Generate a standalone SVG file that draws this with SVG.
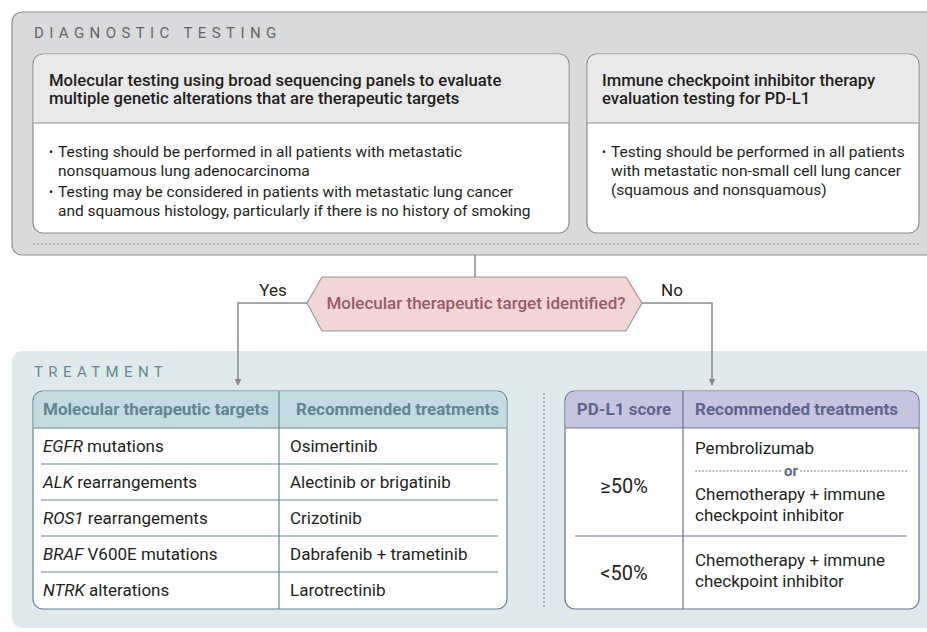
<svg xmlns="http://www.w3.org/2000/svg" width="927" height="632" viewBox="0 0 927 632">
<defs>
<style>
text{font-family:Roboto,"Liberation Sans",sans-serif;fill:#231f20}
.sec{font-size:15px;letter-spacing:5.4px}
.hd{font-size:16.7px;font-weight:500}
.bd{font-size:15.5px}
.bl{font-size:12px}
.tb{font-size:17px}
.th{font-size:17px;font-weight:700}
.conn{fill:none;stroke:#8a8a8a;stroke-width:1.5}
</style>
<marker id="arr" viewBox="0 0 10 10" refX="9" refY="5" markerWidth="7" markerHeight="7" markerUnits="userSpaceOnUse" orient="auto">
<path d="M0,0 L10,5 L0,10 z" fill="#8a8a8a"/>
</marker>
</defs>
<rect width="927" height="632" fill="#ffffff"/>

<g id="diagnostic-panel">
<rect x="12" y="12" width="940" height="243" rx="10" fill="#d9dadb" stroke="#8e8e8e" stroke-width="1.2"/>
<text class="sec" x="34" y="38" style="fill:#666666">DIAGNOSTIC TESTING</text>
<line x1="33" y1="244" x2="919" y2="244" stroke="#9a9a9a" stroke-width="1.2" stroke-dasharray="2,2"/>
</g>

<g id="molecular-testing">
<rect x="33" y="54" width="536" height="179" rx="10" fill="#ffffff" stroke="#8e8e8e" stroke-width="1.2"/>
<path d="M33.6,123 V64 A9.4,9.4 0 0 1 43,54.6 H559 A9.4,9.4 0 0 1 568.4,64 V123 Z" fill="#e9e9ea"/>
<line x1="33" y1="123" x2="569" y2="123" stroke="#8e8e8e" stroke-width="1.2"/>
<text class="hd" x="49" y="86">Molecular testing using broad sequencing panels to evaluate</text>
<text class="hd" x="49" y="104">multiple genetic alterations that are therapeutic targets</text>
<text class="bl" x="49" y="156">•</text>
<text class="bd" x="58" y="157">Testing should be performed in all patients with metastatic</text>
<text class="bd" x="58" y="176">nonsquamous lung adenocarcinoma</text>
<text class="bl" x="49" y="196">•</text>
<text class="bd" x="58" y="197">Testing may be considered in patients with metastatic lung cancer</text>
<text class="bd" x="58" y="216">and squamous histology, particularly if there is no history of smoking</text>
</g>

<g id="pdl1-testing">
<rect x="587" y="54" width="332" height="179" rx="10" fill="#ffffff" stroke="#8e8e8e" stroke-width="1.2"/>
<path d="M587.6,123 V64 A9.4,9.4 0 0 1 597,54.6 H909 A9.4,9.4 0 0 1 918.4,64 V123 Z" fill="#e9e9ea"/>
<line x1="587" y1="123" x2="919" y2="123" stroke="#8e8e8e" stroke-width="1.2"/>
<text class="hd" x="602" y="86">Immune checkpoint inhibitor therapy</text>
<text class="hd" x="602" y="104">evaluation testing for PD-L1</text>
<text class="bl" x="602" y="156">•</text>
<text class="bd" x="611" y="157">Testing should be performed in all patients</text>
<text class="bd" x="611" y="176">with metastatic non-small cell lung cancer</text>
<text class="bd" x="611" y="195">(squamous and nonsquamous)</text>
</g>

<g id="treatment-panel">
<rect x="12" y="351" width="940" height="277" rx="10" fill="#dfeaec"/>
<text class="sec" x="34" y="377" style="fill:#5f8a93">TREATMENT</text>
<line x1="544" y1="393" x2="544" y2="607" stroke="#8ea6ac" stroke-width="1.5" stroke-dasharray="2,2"/>
</g>

<g id="decision">
<polygon points="307,303 322,277 626,277 642,303 626,331 322,331" fill="#f2d5d5" stroke="#9a9a9a" stroke-width="1.2"/>
<text x="476" y="309" text-anchor="middle" style="font-size:17px;font-weight:500;fill:#9b5a67">Molecular therapeutic target identified?</text>
</g>

<g id="targets-table">
<rect x="33" y="391" width="474" height="218" rx="10" fill="#ffffff" stroke="#5f8892" stroke-width="1.2"/>
<path d="M33.6,428 V401 A9.4,9.4 0 0 1 43,391.6 H497 A9.4,9.4 0 0 1 506.4,401 V428 Z" fill="#c3dbe1"/>
<line x1="33" y1="428" x2="507" y2="428" stroke="#5f8892" stroke-width="1.2"/>
<line x1="279" y1="391" x2="279" y2="609" stroke="#5f8892" stroke-width="1.2"/>
<g stroke="#5f8892" stroke-width="1.2">
<line x1="41" y1="464" x2="498" y2="464"/>
<line x1="41" y1="500" x2="498" y2="500"/>
<line x1="41" y1="536" x2="498" y2="536"/>
<line x1="41" y1="572" x2="498" y2="572"/>
</g>
<text class="th" x="43" y="415" style="fill:#5e8790">Molecular therapeutic targets</text>
<text class="th" x="296" y="415" style="fill:#5e8790">Recommended treatments</text>
<text class="tb" x="43" y="452"><tspan font-style="italic">EGFR</tspan> mutations</text>
<text class="tb" x="43" y="488"><tspan font-style="italic">ALK</tspan> rearrangements</text>
<text class="tb" x="43" y="524"><tspan font-style="italic">ROS1</tspan> rearrangements</text>
<text class="tb" x="43" y="560"><tspan font-style="italic">BRAF</tspan> V600E mutations</text>
<text class="tb" x="43" y="596"><tspan font-style="italic">NTRK</tspan> alterations</text>
<text class="tb" x="290" y="452">Osimertinib</text>
<text class="tb" x="290" y="488">Alectinib or brigatinib</text>
<text class="tb" x="290" y="524">Crizotinib</text>
<text class="tb" x="290" y="560">Dabrafenib + trametinib</text>
<text class="tb" x="290" y="596">Larotrectinib</text>
</g>

<g id="pdl1-table">
<rect x="565" y="391" width="354" height="218" rx="10" fill="#ffffff" stroke="#6c7199" stroke-width="1.2"/>
<path d="M565.6,428 V401 A9.4,9.4 0 0 1 575,391.6 H909 A9.4,9.4 0 0 1 918.4,401 V428 Z" fill="#c5c6dd"/>
<line x1="565" y1="428" x2="919" y2="428" stroke="#6c7199" stroke-width="1.2"/>
<line x1="683" y1="391" x2="683" y2="609" stroke="#6c7199" stroke-width="1.2"/>
<line x1="575" y1="536" x2="907" y2="536" stroke="#6c7199" stroke-width="1.2"/>
<text class="th" x="624" y="415" text-anchor="middle" style="fill:#5d6391">PD-L1 score</text>
<text class="th" x="695" y="415" style="fill:#5d6391">Recommended treatments</text>
<text x="624" y="493" text-anchor="middle" style="font-size:20px">≥50%</text>
<text x="624" y="580" text-anchor="middle" style="font-size:20px">&lt;50%</text>
<text class="tb" x="695" y="454">Pembrolizumab</text>
<line x1="695" y1="471" x2="782" y2="471" stroke="#6c7199" stroke-width="0.9" stroke-dasharray="2,1.5"/>
<line x1="800" y1="471" x2="907" y2="471" stroke="#6c7199" stroke-width="0.9" stroke-dasharray="2,1.5"/>
<text x="791" y="476" text-anchor="middle" style="font-size:15px;font-weight:700;fill:#5d6391">or</text>
<text class="tb" x="695" y="500">Chemotherapy + immune</text>
<text class="tb" x="695" y="521">checkpoint inhibitor</text>
<text class="tb" x="695" y="566">Chemotherapy + immune</text>
<text class="tb" x="695" y="587">checkpoint inhibitor</text>
</g>

<g id="connectors">
<line class="conn" x1="475" y1="255" x2="475" y2="277"/>
<path class="conn" d="M307,303 H238 V385" marker-end="url(#arr)"/>
<path class="conn" d="M642,303 H712 V385" marker-end="url(#arr)"/>
<text x="273" y="296" text-anchor="middle" style="font-size:17px">Yes</text>
<text x="672" y="296" text-anchor="middle" style="font-size:17px">No</text>
</g>
</svg>
